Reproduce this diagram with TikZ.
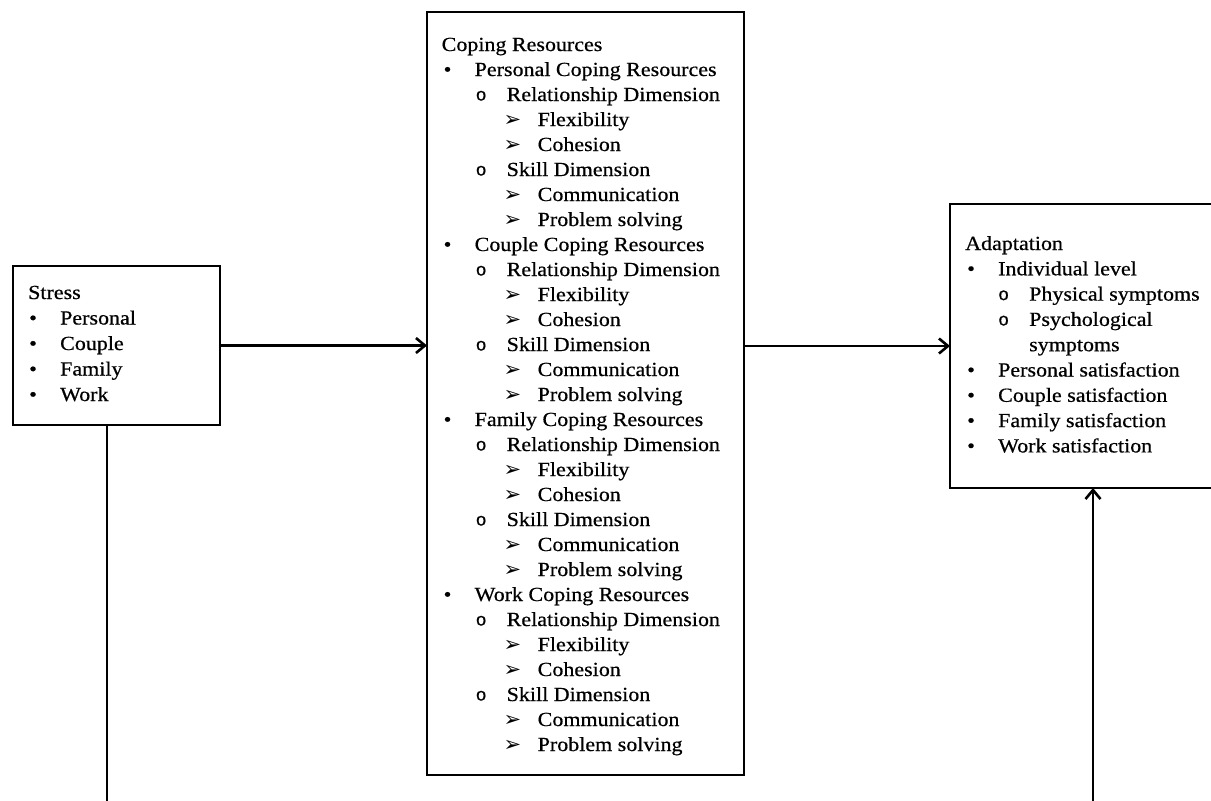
\documentclass[tikz,border=0pt]{standalone}
\usepackage{fontspec}
\setmainfont{Liberation Serif}[FakeStretch=1.1, FakeBold=0.6]
\newfontfamily\monofont{Liberation Mono}[FakeBold=0.6]
\newfontfamily\symfont{DejaVu Sans}
\usetikzlibrary{arrows.meta}

% list markers, each hung to the left of the entry text
\newcommand\mkA{\llap{\makebox[31pt][l]{\textbullet}}}
\newcommand\mkB{\llap{\makebox[31pt][l]{\raisebox{0.5pt}{\monofont\fontsize{18}{20}\selectfont o}}}}
\newcommand\mkC{\llap{\makebox[34pt][l]{\raisebox{-0.5pt}{\symfont\fontsize{21}{20}\selectfont ➢}}}}
\newcommand\marker[1]{\ifcase#1\relax\or\mkA\or\mkB\or\mkC\else\relax\fi}

\tikzset{
  panel/.style={draw=black, line width=2.8pt, fill=white, anchor=north west, inner sep=0pt, outer sep=0pt},
  entry/.style={anchor=base west, inner sep=0pt, font=\fontsize{20}{24}\selectfont, text=black},
  link/.style={line width=2.5pt, draw=black},
  flow/.style={link, -{Straight Barb[length=9pt, width=15pt, line width=2.6pt]}},
}

\begin{document}
\begin{tikzpicture}[x=1pt, y=-1pt]
  \useasboundingbox (0,0) rectangle (1211,801);
  \fill[white] (0,0) rectangle (1211,801);

  % boxes
  \node[panel, minimum width=207pt, minimum height=159pt] (stress) at (13,266) {};
  \node[panel, minimum width=317pt, minimum height=763pt] (cope) at (427,12) {};
  \node[panel, minimum width=290pt, minimum height=284pt] (adapt) at (950,204) {};

  % Stress entries
  \foreach [count=\i from 0] \l/\t in {0/Stress, 1/Personal, 1/Couple, 1/Family, 1/Work} {
    \pgfmathsetmacro\xx{28+(\l==1)*32}
    \node[entry] (stress-\i) at (\xx, 299+25.5*\i) {\marker{\l}\t};
  }

  % Coping resources entries
  \foreach [count=\i from 0] \l/\t in {
      0/Coping Resources,
      1/Personal Coping Resources, 2/Relationship Dimension, 3/Flexibility, 3/Cohesion,
        2/Skill Dimension, 3/Communication, 3/Problem solving,
      1/Couple Coping Resources, 2/Relationship Dimension, 3/Flexibility, 3/Cohesion,
        2/Skill Dimension, 3/Communication, 3/Problem solving,
      1/Family Coping Resources, 2/Relationship Dimension, 3/Flexibility, 3/Cohesion,
        2/Skill Dimension, 3/Communication, 3/Problem solving,
      1/Work Coping Resources, 2/Relationship Dimension, 3/Flexibility, 3/Cohesion,
        2/Skill Dimension, 3/Communication, 3/Problem solving} {
    \pgfmathsetmacro\xx{441.5+(\l==1)*33+(\l==2)*65+(\l==3)*96}
    \node[entry] (cope-\i) at (\xx, 51+25*\i) {\marker{\l}\t};
  }

  % Adaptation entries (level 4 = continuation line of a level-2 item)
  \foreach [count=\i from 0] \l/\t in {
      0/Adaptation, 1/Individual level, 2/Physical symptoms, 2/Psychological, 4/symptoms,
      1/Personal satisfaction, 1/Couple satisfaction, 1/Family satisfaction, 1/Work satisfaction} {
    \pgfmathsetmacro\xx{965+(\l==1)*33+(\l==2)*64+(\l==4)*64}
    \node[entry] (adapt-\i) at (\xx, 250+25.3*\i) {\marker{\l}\t};
  }

  % connectors
  \coordinate (sdrop) at (107,806);
  \coordinate (arise) at (1093,806);
  \draw[flow] (stress.east) -- (stress.east -| cope.west);
  \draw[flow] (adapt.west -| cope.east) -- (adapt.west);
  \draw[link] (sdrop |- stress.south) -- (sdrop);
  \draw[flow] (arise) -- (arise |- adapt.south);
\end{tikzpicture}
\end{document}
